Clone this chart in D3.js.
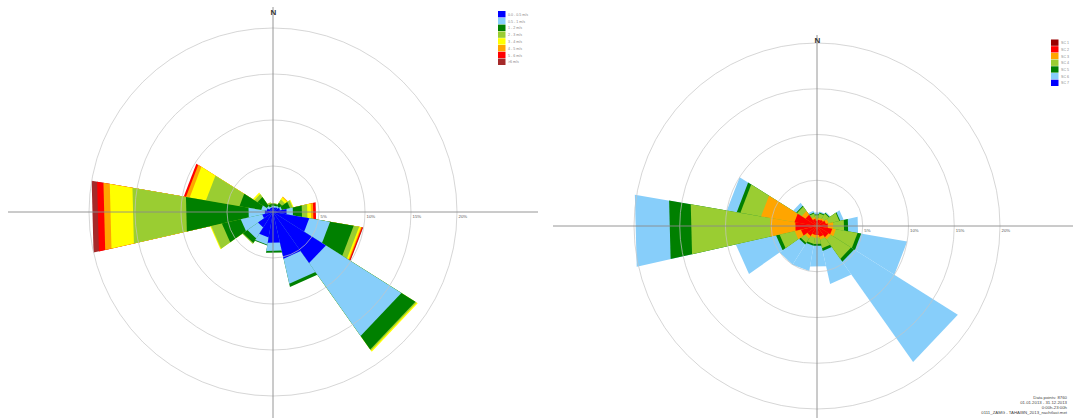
<!DOCTYPE html>
<html><head><meta charset="utf-8">
<script src="https://cdn.jsdelivr.net/npm/d3@7"></script>
<style>html,body{margin:0;padding:0;background:#fff;overflow:hidden}svg{display:block}</style>
</head><body>
<svg id="c" width="1073" height="418"></svg>
<script>
// ---------- data ----------
const directions = ["N","NNE","NE","ENE","E","ESE","SE","SSE","S","SSW","SW","WSW","W","WNW","NW","NNW"];
const ringTicks = [5, 10, 15, 20];
const ringLabels = ["5%", "10%", "15%", "20%"];

// Left rose: wind speed classes (percent of hours, per direction)
const speedClasses = ["0.0 - 0.5 m/s", "0.5 - 1 m/s", "1 - 2 m/s", "2 - 3 m/s", "3 - 4 m/s", "4 - 5 m/s", "5 - 6 m/s", ">6 m/s"];
const speedColors = ["#0000ff", "#87cefa", "#008000", "#9acd32", "#ffff00", "#ffa500", "#ff0000", "#a52a2a"];
const speed0 = [0.5, 0.5, 0.6, 0.8, 1.5, 4.0, 6.8, 5.2, 3.4, 2.8, 2.0, 1.2, 0.9, 0.7, 0.5, 0.5];
const speed1 = [0.2, 0.2, 0.2, 0.2, 0.7, 2.3, 9.7, 2.8, 0.9, 0.8, 1.4, 2.4, 1.8, 0.6, 0.3, 0.1];
const speed2 = [0.2, 0.2, 0.4, 0.9, 1.0, 2.6, 1.8, 0.35, 0.2, 0.1, 0.6, 2.1, 6.9, 2.4, 1.2, 0.3];
const speed3 = [0.1, 0.1, 0.4, 0.3, 0.6, 0.6, 0.15, 0, 0, 0, 0.1, 1.2, 5.9, 3.7, 0.4, 0.2];
const speed4 = [0, 0, 0.3, 0.1, 0.4, 0.2, 0.15, 0, 0, 0, 0, 0.1, 2.5, 1.8, 0.2, 0];
const speed5 = [0, 0, 0.1, 0, 0.25, 0.1, 0, 0, 0, 0, 0, 0, 0.7, 0.4, 0, 0];
const speed6 = [0, 0, 0, 0, 0.3, 0.1, 0, 0, 0, 0, 0, 0, 0.7, 0.25, 0, 0];
const speed7 = [0, 0, 0, 0, 0, 0.05, 0, 0, 0, 0, 0, 0, 0.6, 0, 0, 0];

// Right rose: stability classes
const stabilityClasses = ["SC 1", "SC 2", "SC 3", "SC 4", "SC 5", "SC 6", "SC 7"];
const stabilityColors = ["#990000", "#ff0000", "#ffa500", "#9acd32", "#008000", "#87cefa", "#0000ff"];
const sc1 = [0, 0, 0, 0, 0, 0, 0, 0, 0, 0, 0, 0, 0, 0, 0, 0];
const sc2 = [0.6, 0.7, 0.8, 1.0, 1.2, 1.7, 1.5, 1.2, 1.0, 1.0, 1.3, 1.8, 2.4, 2.5, 1.5, 0.8];
const sc3 = [0.2, 0.2, 0.2, 0.3, 0.6, 0.4, 0.3, 0.3, 0.3, 0.3, 0.3, 0.7, 2.8, 3.7, 0.5, 0.2];
const sc4 = [0.4, 0.5, 0.6, 1.2, 1.2, 2.4, 2.6, 1.0, 0.7, 0.7, 0.6, 1.7, 8.8, 2.3, 0.6, 0.4];
const sc5 = [0.1, 0.1, 0.1, 0.1, 0.45, 0.4, 0.4, 0.3, 0.2, 0.2, 0.2, 0.4, 2.4, 0.4, 0.1, 0.1];
const sc6 = [0.2, 0.1, 0.1, 0.4, 1.1, 5.1, 13.4, 3.7, 2.3, 2.8, 2.6, 4.5, 3.8, 1.1, 0.4, 0.2];
const sc7 = [0, 0, 0, 0, 0, 0, 0, 0, 0, 0, 0, 0, 0, 0, 0, 0];

const infoLines = ["Data points: 8760", "01.01.2013 - 31.12.2013", "0:00h-23:00h", "0111_ZAMG - TAHAIBN_2013_nachtlast.met"];

// ---------- drawing ----------
const svg = d3.select("#c");
const rotation = -1.5; // sector rotation seen in the picture (degrees)

function drawRose(opt) {
  const g = svg.append("g");
  const rows = directions.map((d, i) => {
    const o = {dir: d};
    opt.keys.forEach((k, j) => o[k] = opt.series[j][i]);
    return o;
  });
  const stack = d3.stack().keys(opt.keys)(rows);
  const r = d3.scaleLinear().domain([0, 20]).range([0, opt.r20]);
  const ang = d3.scaleBand().domain(directions).range([-11.25 + rotation, 348.75 + rotation]).padding(0);
  const colour = d3.scaleOrdinal().domain(opt.keys).range(opt.colors);
  const pt = (a, rr) => {
    const t = a * Math.PI / 180;
    return [opt.cx + rr * Math.sin(t), opt.cy - rr * Math.cos(t)];
  };
  for (let k = stack.length - 1; k >= 0; k--) {
    const layer = stack[k];
    g.append("g").selectAll("path").data(layer.filter(d => d[1] > 0 && (d[1] - d[0]) > 0)).join("path")
      .attr("d", d => {
        const a0 = ang(d.data.dir), a1 = a0 + ang.bandwidth();
        const rr = r(d[1]);
        return "M" + [opt.cx, opt.cy] + "L" + pt(a0, rr) + "L" + pt(a1, rr) + "Z";
      })
      .attr("fill", colour(layer.key));
  }
  g.append("g").selectAll("circle").data(ringTicks).join("circle")
    .attr("cx", opt.cx).attr("cy", opt.cy).attr("r", d => r(d))
    .attr("fill", "none").attr("stroke", "#c4c4c4").attr("stroke-width", 0.7);
  g.append("line").attr("x1", opt.cx - opt.axisX).attr("x2", opt.cx + opt.axisX)
    .attr("y1", opt.cy).attr("y2", opt.cy).attr("stroke", "#8a8a8a").attr("stroke-width", 0.9);
  g.append("line").attr("x1", opt.cx).attr("x2", opt.cx)
    .attr("y1", opt.axisTop).attr("y2", 418).attr("stroke", "#8a8a8a").attr("stroke-width", 0.9);
  g.append("g").selectAll("text").data(ringTicks).join("text")
    .attr("x", d => opt.cx + r(d) + 1.5).attr("y", opt.cy + 6)
    .attr("font-family", "Arial, Liberation Sans, sans-serif").attr("font-size", 4.3).attr("fill", "#555")
    .text((d, i) => ringLabels[i]);
  g.append("text").attr("x", opt.cx + 0.5).attr("y", opt.axisTop + 8).attr("text-anchor", "middle")
    .attr("font-family", "Arial, Liberation Sans, sans-serif").attr("font-size", 8).attr("font-weight", "bold")
    .attr("fill", "#333").text("N");
  const lg = g.append("g").attr("transform", `translate(${opt.legX},${opt.legY})`);
  const items = lg.selectAll("g").data(opt.labels).join("g").attr("transform", (d, i) => `translate(0,${i * opt.legStep})`);
  items.append("rect").attr("width", 7.5).attr("height", opt.legStep - 0.4).attr("fill", (d, i) => opt.colors[i]);
  items.append("text").attr("x", 10).attr("y", opt.legStep * 0.7)
    .attr("font-family", "Arial, Liberation Sans, sans-serif").attr("font-size", 3.6).attr("fill", "#888").text(d => d);
}

drawRose({
  cx: 273, cy: 212, r20: 184, axisX: 265, axisTop: 7,
  keys: speedClasses, labels: speedClasses, colors: speedColors,
  series: [speed0, speed1, speed2, speed3, speed4, speed5, speed6, speed7],
  legX: 498, legY: 11, legStep: 6.8
});
drawRose({
  cx: 817, cy: 226, r20: 183, axisX: 264, axisTop: 35,
  keys: stabilityClasses, labels: stabilityClasses, colors: stabilityColors,
  series: [sc1, sc2, sc3, sc4, sc5, sc6, sc7],
  legX: 1051, legY: 39.5, legStep: 6.7
});

svg.append("g").selectAll("text").data(infoLines).join("text")
  .attr("x", 1067).attr("y", (d, i) => 399 + i * 5)
  .attr("text-anchor", "end").attr("font-family", "Arial, Liberation Sans, sans-serif")
  .attr("font-size", 4.3).attr("fill", "#444").text(d => d);
</script>
</body></html>
